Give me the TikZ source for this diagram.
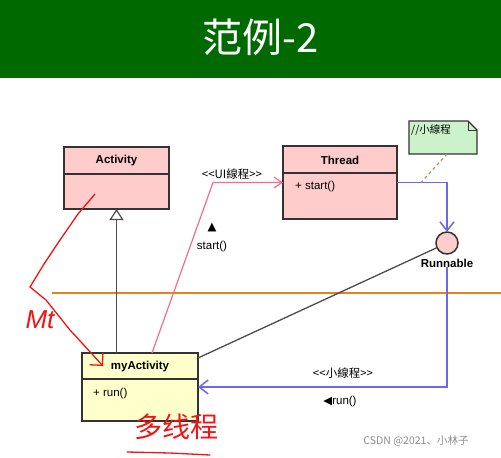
\documentclass[tikz,border=0pt]{standalone}
\usepackage{fontspec}
\setmainfont{Liberation Sans}
\newfontfamily\cjktc{Noto Sans CJK TC}
\newfontfamily\cjksc{Noto Sans CJK SC}
\newfontfamily\symbolfont{DejaVu Sans}
\usetikzlibrary{arrows.meta}
\newcommand\umlstereo[1]{<\kern0pt<#1>\kern0pt>}
\definecolor{header green}{HTML}{006A00}
\definecolor{class pink}{HTML}{FFCCCC}
\definecolor{class yellow}{HTML}{FFFFCC}
\definecolor{note green}{HTML}{CCF2CC}
\definecolor{class border}{HTML}{333333}
\definecolor{ui line}{HTML}{F0708C}
\definecolor{impl line}{HTML}{6A6AE6}
\definecolor{divider orange}{HTML}{E8801E}
\definecolor{marker red}{HTML}{F01414}
\definecolor{note link}{HTML}{B09070}
\tikzset{
    x={1pt},
    y={-1pt},
    class box/.style={
        draw=class border, fill={#1},
        line width={1.8pt},
        outer sep=0pt, inner sep=0pt,
        anchor=north west,
    },
    class rule/.style={
        draw=class border,
        line width={1.2pt},
    },
    class name/.style={
        font={\fontsize{11.5}{13}\selectfont\bfseries},
        inner sep=0pt,
    },
    member/.style={
        font={\fontsize{11.5}{13}\selectfont},
        anchor=west, inner sep=0pt,
    },
    note box/.style={
        draw=class border, fill=note green,
        line width={1.2pt},
    },
    interface/.style={
        circle, draw=class border, fill=class pink,
        line width={1.5pt},
        minimum size={22},
        inner sep=0pt, outer sep=0pt,
    },
    connector label/.style={
        font={\fontsize{11.5}{13}\selectfont},
        inner sep=0pt,
    },
    inherit/.style={
        draw=black!70,
        line width={1.2pt},
        -{Triangle[open, length=11pt, width=14pt, fill=white]},
    },
    ui call/.style={
        draw=ui line,
        line width={1.2pt},
        -{Straight Barb[length=8pt, width=11pt]},
    },
    impl call/.style={
        draw=impl line,
        line width={1.5pt},
        -{Straight Barb[length=9pt, width=14pt]},
    },
    assoc/.style={
        draw=black!70,
        line width={1.3pt},
    },
    note anchor/.style={
        draw=note link, dashed,
        line width={1.2pt},
    },
    marker/.style={
        draw=marker red,
        line width={1.3pt},
        line cap=round, line join=round,
    },
}
\begin{document}
\begin{tikzpicture}
\useasboundingbox (0,0) rectangle (501,458);
% background
\fill[white] (0,0) rectangle (501,458);
\fill[header green] (0,0) rectangle (501,78);
\node[text=white, font={\cjksc\fontsize{40}{44}\selectfont}] (title) at (261,37) {范例-2};
\draw[divider orange, line width={2pt}] (52,293) -- (501,293);
% classes
\node[class box={class pink}, minimum width={105}, minimum height={62}] (activity) at (64,147) {};
\draw[class rule] ([yshift=-27pt]activity.north west) -- ([yshift=-27pt]activity.north east);
\node[class name] (activity name) at ([yshift=-14pt]activity.north) {Activity};
\node[class box={class pink}, minimum width={114}, minimum height={73}] (thread) at (283,146) {};
\draw[class rule] ([yshift=-27pt]thread.north west) -- ([yshift=-27pt]thread.north east);
\node[class name] (thread name) at ([yshift=-14pt]thread.north) {Thread};
\node[member] (thread start) at (295,187) {+ start()};
\node[class box={class yellow}, minimum width={116}, minimum height={68}] (myactivity) at (82,353) {};
\draw[class rule] ([yshift=-26pt]myactivity.north west) -- ([yshift=-26pt]myactivity.north east);
\node[class name] (myactivity name) at ([yshift=-14pt]myactivity.north) {myActivity};
\node[member] (myactivity run) at (93,394) {+ run()};
% interface and note
\node[interface] (runnable) at (447,243) {};
\node[class name] (runlabel) at (447,263) {Runnable};
\node[minimum width={68}, minimum height={33}, inner sep=0pt, outer sep=0pt, anchor=north west] (note) at (409,121) {};
\path[note box] (note.north west) -- ([xshift=-9pt]note.north east) -- ([yshift=-9pt]note.north east) -- (note.south east) -- (note.south west) -- cycle;
\draw[class border, line width={1pt}] ([xshift=-9pt]note.north east) -- ([xshift=-9pt, yshift=-9pt]note.north east) -- ([yshift=-9pt]note.north east);
\node[font={\cjktc\fontsize{10.5}{12}\selectfont}, anchor=north west, inner sep=0pt] (note text) at ([xshift=2pt, yshift=-3pt]note.north west) {//小線程};
% connectors
\coordinate (ui bend) at (213,182.5);
\coordinate (link end) at (421,182.5);
\draw[inherit] (activity.south |- myactivity.north) -- (activity.south);
\draw[ui call] ([xshift=12pt]myactivity.north) -- (ui bend) -- (thread.west);
\draw[impl call] (thread.east) -| (runnable.north);
\draw[impl call] (runlabel.south) |- (myactivity.east);
\draw[assoc] (runnable) -- ([yshift=-5pt]myactivity.north east);
\draw[note anchor] ([xshift=4pt]note.south) -- (link end);
% connector labels
\node[connector label, font={\cjktc\fontsize{11.5}{13}\selectfont}] (ui label) at (232,174) {\umlstereo{UI線程}};
\node[connector label] (start arrow) at (212,228) {\symbolfont ▲};
\node[connector label] (start label) at (212,247) {start()};
\node[connector label, font={\cjktc\fontsize{11.5}{13}\selectfont}] (thread label) at (343,373) {\umlstereo{小線程}};
\node[connector label] (run label) at (340,402) {{\symbolfont ◀}run()};
% handwriting
\draw[marker] (95,194) -- (78,214) -- (60,240) -- (44,264) -- (30,287);
\draw[marker, -{Straight Barb[length=9pt, width=18pt]}] (30,287) -- (46,300) -- (70,330) -- (103,366);
\node[text=marker red, font={\itshape\fontsize{26}{28}\selectfont}] (mt) at (40,320) {Mt};
\node[text=marker red, font={\cjksc\fontsize{28}{30}\selectfont}] (multi thread) at (176,427) {多线程};
\draw[marker] (127,452) -- (170,453) -- (210,455);
% watermark
\node[text=black!45, font={\cjksc\fontsize{10.5}{12}\selectfont}] (watermark) at (416,441) {CSDN @2021、小林子};
\end{tikzpicture}
\end{document}
